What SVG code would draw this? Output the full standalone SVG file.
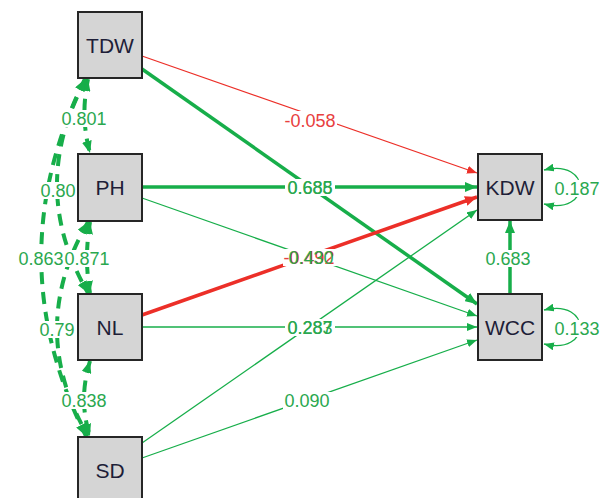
<svg xmlns="http://www.w3.org/2000/svg" width="603" height="498" viewBox="0 0 603 498">
  <style>
    .node rect { fill: #d5d5d5; stroke: #262626; stroke-width: 2; }
    .node text { font-family: "Liberation Sans", Arial, sans-serif; font-size: 21px; fill: #1e1e38; text-anchor: middle; }
    .g { stroke: #17ae4a; fill: none; }
    .r { stroke: #ec2f28; fill: none; }
    .thick { stroke-width: 3.5; }
    .thin { stroke-width: 1.3; }
    .cov { stroke: #17ae4a; fill: none; stroke-width: 4; stroke-dasharray: 12 8; }
    .lbg { fill: #ffffff; }
    .lab { font-family: "Liberation Sans", Arial, sans-serif; font-size: 18px; text-anchor: middle; }
    .lg { fill: #2aa84f; }
    .lr { fill: #e8403e; }
  </style>
  <defs>
    <marker id="ag" viewBox="0 0 12 10" refX="12" refY="5" markerWidth="12" markerHeight="10" markerUnits="userSpaceOnUse" orient="auto-start-reverse">
      <path d="M0,0 L12,5 L0,10 z" fill="#17ae4a"/>
    </marker>
    <marker id="agt" viewBox="0 0 10 8" refX="10" refY="4" markerWidth="10" markerHeight="8" markerUnits="userSpaceOnUse" orient="auto-start-reverse">
      <path d="M0,0 L10,4 L0,8 z" fill="#17ae4a"/>
    </marker>
    <marker id="ar" viewBox="0 0 12 10" refX="12" refY="5" markerWidth="12" markerHeight="10" markerUnits="userSpaceOnUse" orient="auto">
      <path d="M0,0 L12,5 L0,10 z" fill="#ec2f28"/>
    </marker>
    <marker id="art" viewBox="0 0 10 8" refX="10" refY="4" markerWidth="10" markerHeight="8" markerUnits="userSpaceOnUse" orient="auto">
      <path d="M0,0 L10,4 L0,8 z" fill="#ec2f28"/>
    </marker>
  </defs>

  <g id="connectors">
    <!-- regression paths -->
    <path class="r thin" d="M142,56 L477,173" marker-end="url(#art)"/>
    <path class="g thick" d="M142,69 L477,304" marker-end="url(#ag)"/>
    <path class="g thick" d="M142,187 L477,187" marker-end="url(#ag)"/>
    <path class="g thin" d="M142,198 L477,316" marker-end="url(#agt)"/>
    <path class="r thick" d="M142,315 L477,197" marker-end="url(#ar)"/>
    <path class="g thin" d="M142,327 L477,327" marker-end="url(#agt)"/>
    <path class="g thin" d="M142,443 L477,210" marker-end="url(#agt)"/>
    <path class="g thin" d="M142,458 L477,340" marker-end="url(#agt)"/>
    <path class="g thick" d="M510,294 L510,221" marker-end="url(#ag)"/>
    <!-- residual variances -->
    <path class="g thin" d="M544,170 C592,158 592,216 544,204" marker-start="url(#agt)" marker-end="url(#agt)"/>
    <path class="g thin" d="M544,310 C592,298 592,356 544,344" marker-start="url(#agt)" marker-end="url(#agt)"/>
    <!-- covariances among exogenous variables -->
    <path class="cov" d="M88,79 Q80,117 90,153" marker-start="url(#ag)" marker-end="url(#ag)"/>
    <path class="cov" d="M86,79 Q27,187 88,293" marker-start="url(#ag)" marker-end="url(#ag)"/>
    <path class="cov" d="M85,79 Q-3,258 86,436" marker-start="url(#ag)" marker-end="url(#ag)"/>
    <path class="cov" d="M90,222 Q84,258 90,293" marker-start="url(#ag)" marker-end="url(#ag)"/>
    <path class="cov" d="M88,222 Q26,329 88,436" marker-start="url(#ag)" marker-end="url(#ag)"/>
    <path class="cov" d="M90,361 Q78,400 90,436" marker-start="url(#ag)" marker-end="url(#ag)"/>

    <!-- label backgrounds -->
    <rect class="lbg" x="283" y="111" width="54" height="17"/>
    <rect class="lbg" x="285" y="179" width="50" height="17"/>
    <rect class="lbg" x="283" y="249" width="54" height="17"/>
    <rect class="lbg" x="285" y="319" width="50" height="17"/>
    <rect class="lbg" x="283" y="392" width="50" height="17"/>
    <rect class="lbg" x="484" y="250" width="50" height="17"/>
    <rect class="lbg" x="552" y="180" width="51" height="17"/>
    <rect class="lbg" x="552" y="320" width="51" height="17"/>
    <rect class="lbg" x="60" y="110" width="49" height="17"/>
    <rect class="lbg" x="39" y="182" width="38" height="17"/>
    <rect class="lbg" x="17" y="250" width="48" height="17"/>
    <rect class="lbg" x="64" y="250" width="46" height="17"/>
    <rect class="lbg" x="37" y="321" width="40" height="17"/>
    <rect class="lbg" x="60" y="392" width="49" height="17"/>

    <!-- labels -->
    <text class="lab lr" x="310" y="126.5">-0.058</text>
    <text class="lab lg" x="310" y="193.5">0.685</text>
    <text class="lab lg" x="310" y="193.5">0.688</text>
    <text class="lab lr" x="309" y="263.5">-0.492</text>
    <text class="lab lg" x="311" y="263.5">0.430</text>
    <text class="lab lg" x="310" y="333.5">0.283</text>
    <text class="lab lg" x="310" y="333.5">0.287</text>
    <text class="lab lg" x="307" y="406.5">0.090</text>
    <text class="lab lg" x="508" y="264.5">0.683</text>
    <text class="lab lg" x="577" y="194.5">0.187</text>
    <text class="lab lg" x="577" y="334.5">0.133</text>
    <text class="lab lg" x="84" y="124.5">0.801</text>
    <text class="lab lg" x="58" y="196.5">0.80</text>
    <text class="lab lg" x="41" y="264.5">0.863</text>
    <text class="lab lg" x="87" y="264.5">0.871</text>
    <text class="lab lg" x="57" y="335.5">0.79</text>
    <text class="lab lg" x="84" y="406.5">0.838</text>
  </g>

  <g id="TDW" class="node"><rect x="78" y="12" width="64" height="66"/><text x="110" y="52.5">TDW</text></g>
  <g id="PH" class="node"><rect x="78" y="154" width="64" height="67"/><text x="110" y="195">PH</text></g>
  <g id="NL" class="node"><rect x="78" y="294" width="64" height="66"/><text x="110" y="334.5">NL</text></g>
  <g id="SD" class="node"><rect x="78" y="437" width="64" height="66"/><text x="110" y="477.5">SD</text></g>
  <g id="KDW" class="node"><rect x="478" y="154" width="64" height="66"/><text x="510" y="194.5">KDW</text></g>
  <g id="WCC" class="node"><rect x="478" y="294" width="64" height="66"/><text x="510" y="334.5">WCC</text></g>
</svg>
